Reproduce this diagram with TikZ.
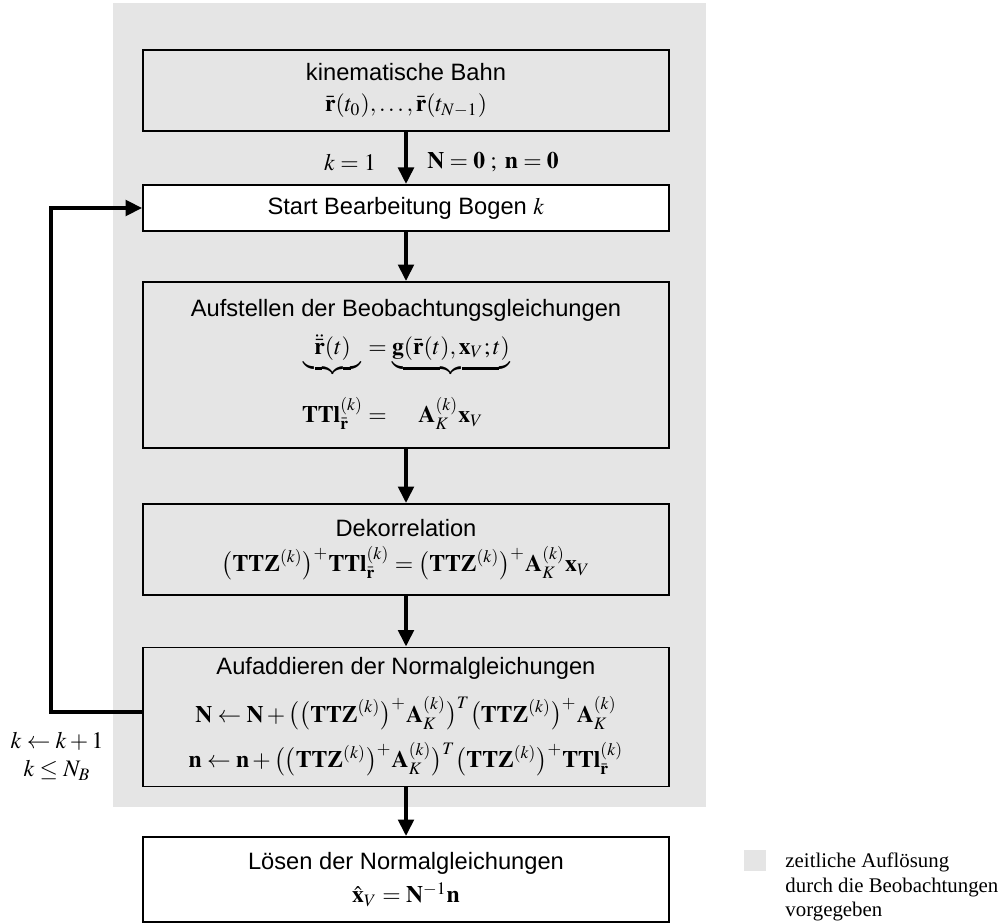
\documentclass[tikz,border=0pt]{standalone}
\usepackage{mathptmx}
\usepackage[no-math]{fontspec}
\setmainfont{Liberation Serif}
\setsansfont{Liberation Sans}
\usetikzlibrary{arrows.meta}

\begin{document}
\begin{tikzpicture}[x=0.01484cm, y=-0.01484cm,
    stepbox/.style={shape=rectangle, draw=black, line width=0.8pt, fill=gray!20,
      minimum width=7.806cm, align=center, font=\sffamily, inner sep=2pt},
    flow/.style={line width=1.7pt, -{Triangle[length=7pt,width=6.5pt]}}]
    \useasboundingbox (0,0) rectangle (1006,924);
    % zeitlich aufgeloester Bereich
    \fill[gray!20] (113,3) rectangle (706,807);

    \node[stepbox, minimum height=1.202cm] (bahn) at (406,90.5)
      {kinematische Bahn\\[1pt] $\bar{\mathbf r}(t_0),\ldots,\bar{\mathbf r}(t_{N-1})$};
    \node[stepbox, fill=white, minimum height=0.683cm] (start) at (406,208)
      {Start Bearbeitung Bogen $k$};
    \node[stepbox, minimum height=2.463cm] (beob) at (406,365)
      {Aufstellen der Beobachtungsgleichungen\\[4.6pt]
       $\begin{array}{c@{\;}c@{\;}c}
         \displaystyle\underbrace{\;\;\ddot{\bar{\mathbf r}}(t)\;\;} & = &
         \displaystyle\underbrace{\mathbf g(\bar{\mathbf r}(t),\mathbf x_V;t)}\\[14.5pt]
         \mathbf{TTl}^{(k)}_{\bar{\mathbf r}} & = & \mathbf A^{(k)}_K\mathbf x_V
       \end{array}$};
    \node[stepbox, minimum height=1.350cm] (dekorr) at (406,549.5)
      {Dekorrelation\\[3pt]
       $\big(\mathbf{TTZ}^{(k)}\big)^{+}\mathbf{TTl}^{(k)}_{\bar{\mathbf r}}
        = \big(\mathbf{TTZ}^{(k)}\big)^{+}\mathbf A^{(k)}_K\mathbf x_V$};
    \node[stepbox, minimum height=2.063cm] (normal) at (406,717)
      {Aufaddieren der Normalgleichungen\\[6pt]
       $\mathbf N \leftarrow \mathbf N + \big(\big(\mathbf{TTZ}^{(k)}\big)^{+}\mathbf A^{(k)}_K\big)^T
        \big(\mathbf{TTZ}^{(k)}\big)^{+}\mathbf A^{(k)}_K$\\[4pt]
       $\mathbf n \leftarrow \mathbf n + \big(\big(\mathbf{TTZ}^{(k)}\big)^{+}\mathbf A^{(k)}_K\big)^T
        \big(\mathbf{TTZ}^{(k)}\big)^{+}\mathbf{TTl}^{(k)}_{\bar{\mathbf r}}$};
    \node[stepbox, fill=white, minimum height=1.261cm] (loesen) at (406,879.5)
      {L\"osen der Normalgleichungen\\[2pt] $\hat{\mathbf x}_V = \mathbf N^{-1}\mathbf n$};

    \node (kinit) at (350,162) {$k=1$};
    \node (ninit) at (493,162) {$\mathbf N=\mathbf 0\;;\;\mathbf n=\mathbf 0$};
    \node[align=center] (kstep) at (57,756) {$k \leftarrow k+1$\\ $k \le N_B$};

    \draw[flow] (bahn) -- (start);
    \draw[flow] (start) -- (beob);
    \draw[flow] (beob) -- (dekorr);
    \draw[flow] (dekorr) -- (normal);
    \draw[flow] (normal) -- (loesen);
    \draw[flow] ([yshift=0.074cm]normal.west) -- ++(-91,0) |- (start.west);

    % Legende
    \node[fill=gray!20, minimum size=0.326cm, inner sep=0] (legendbox) at (755,860.5) {};
    \node[anchor=north west, inner sep=0, align=left, font=\fontsize{8.8}{10.5}\selectfont]
      (legendtext) at (785,852) {zeitliche Aufl\"osung\\ durch die Beobachtungen\\ vorgegeben};
  \end{tikzpicture}
\end{document}
